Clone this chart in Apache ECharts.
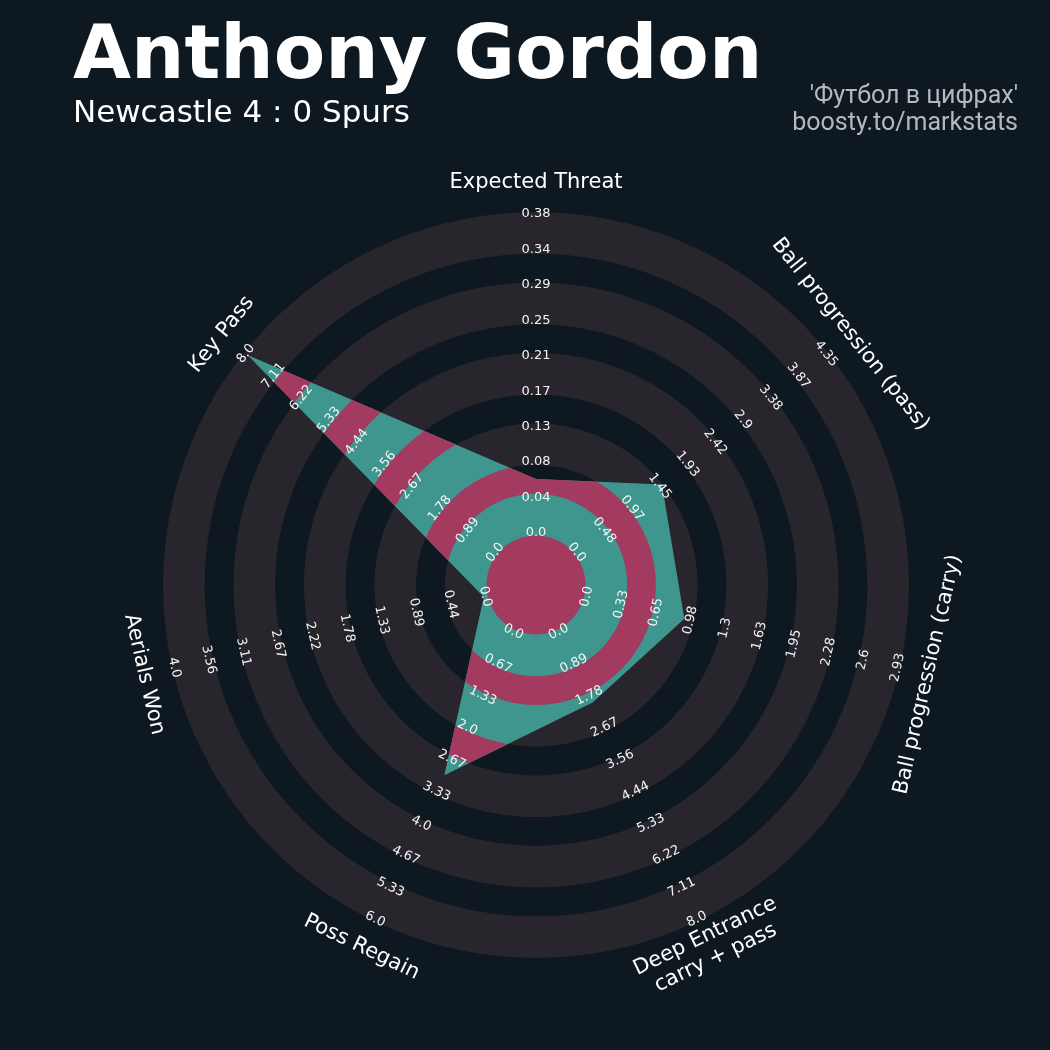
<!DOCTYPE html>
<html><head><meta charset="utf-8">
<script src="https://cdn.jsdelivr.net/npm/echarts@6/dist/echarts.min.js"></script>
<style>html,body{margin:0;padding:0;background:#0e1821;}#c{width:1050px;height:1050px;}</style>
</head><body><div id="c"></div>
<script>
// ---------- data ----------
const params = ['Expected Threat', 'Ball progression (pass)', 'Ball progression (carry)',
  'Deep Entrance\ncarry + pass', 'Poss Regain', 'Aerials Won', 'Key Pass'];
const rangeMin = [0, 0, 0, 0, 0, 0, 0];
const rangeMax = [0.378, 4.35, 2.93, 8.0, 6.0, 4.0, 8.0];
const values = [0.066, 1.5, 0.93, 2.0, 3.0, 0.05, 7.9];
const tickLabels = [
  ['0.0', '0.04', '0.08', '0.13', '0.17', '0.21', '0.25', '0.29', '0.34', '0.38'],
  ['0.0', '0.48', '0.97', '1.45', '1.93', '2.42', '2.9', '3.38', '3.87', '4.35'],
  ['0.0', '0.33', '0.65', '0.98', '1.3', '1.63', '1.95', '2.28', '2.6', '2.93'],
  ['0.0', '0.89', '1.78', '2.67', '3.56', '4.44', '5.33', '6.22', '7.11', '8.0'],
  ['0.0', '0.67', '1.33', '2.0', '2.67', '3.33', '4.0', '4.67', '5.33', '6.0'],
  ['0.0', '0.44', '0.89', '1.33', '1.78', '2.22', '2.67', '3.11', '3.56', '4.0'],
  ['0.0', '0.89', '1.78', '2.67', '3.56', '4.44', '5.33', '6.22', '7.11', '8.0']
];
const titleText = 'Anthony Gordon';
const subtitleText = 'Newcastle 4 : 0 Spurs';
const creditLines = ["'Футбол в цифрах'", 'boosty.to/markstats'];

// ---------- layout / style ----------
const OUTER = 373;                 // px radius of the polar system
const R0 = 49.5 / OUTER;           // inner circle radius (normalized)
const lightBands = [[49.5, 91.2], [119.95, 161.65], [190.4, 232.1], [260.85, 302.55], [331.3, 373]]
  .map(b => [b[0] / OUTER, b[1] / OUTER]);
const darkBands = [[0, 49.5], [91.2, 119.95], [161.65, 190.4], [232.1, 260.85], [302.55, 331.3]]
  .map(b => [b[0] / OUTER, b[1] / OUTER]);
const LABEL_R0 = 52 / OUTER, LABEL_R1 = 371 / OUTER;
const PARAM_R = 402 / OUTER;
const BG = '#0e1821', RING = '#28252c', TEAL = '#3e968f', PINK = '#a33a5f';
const N = params.length;
const angleOf = i => i * 360 / N;
const norm = (v, i) => R0 + (1 - R0) * (v - rangeMin[i]) / (rangeMax[i] - rangeMin[i]);

function textRot(i) {
  const phi = 90 - angleOf(i);
  let rot = phi - 90;
  while (rot <= -180) rot += 360;
  while (rot > 180) rot -= 360;
  if (rot < -90) rot += 180;
  if (rot > 90) rot -= 180;
  return rot * Math.PI / 180;
}

const polyData = values.map((v, i) => [norm(v, i), angleOf(i)]);
const tickData = [];
tickLabels.forEach((arr, i) => arr.forEach((t, k) => {
  tickData.push([LABEL_R0 + (LABEL_R1 - LABEL_R0) * k / (arr.length - 1), angleOf(i), i, k]);
}));
const paramData = params.map((p, i) => [PARAM_R, angleOf(i), i]);

const chart = echarts.init(document.getElementById('c'), null, {renderer: 'canvas'});
chart.setOption({
  backgroundColor: BG,
  animation: false,
  polar: {center: [536, 585], radius: OUTER},
  angleAxis: {type: 'value', min: 0, max: 360, startAngle: 90, clockwise: true, show: false},
  radiusAxis: {type: 'value', min: 0, max: 1, show: false},
  graphic: [
    {type: 'text', x: 73, y: 59, style: {text: titleText, font: 'bold 75px "DejaVu Sans"', fill: '#ffffff',
      textAlign: 'left', textVerticalAlign: 'middle', align: 'left', verticalAlign: 'middle'}},
    {type: 'text', x: 73, y: 114, style: {text: subtitleText, font: '31px "DejaVu Sans"', fill: '#ffffff',
      textAlign: 'left', textVerticalAlign: 'middle', align: 'left', verticalAlign: 'middle'}},
    {type: 'text', x: 1018, y: 97, style: {text: creditLines[0], font: '25px Roboto', fill: '#b5b9bd',
      textAlign: 'right', textVerticalAlign: 'middle', align: 'right', verticalAlign: 'middle'}},
    {type: 'text', x: 1018, y: 124, style: {text: creditLines[1], font: '25px Roboto', fill: '#b5b9bd',
      textAlign: 'right', textVerticalAlign: 'middle', align: 'right', verticalAlign: 'middle'}}
  ],
  series: [
    {
      type: 'custom', coordinateSystem: 'polar', silent: true, z: 1,
      data: lightBands.map(b => [b[1], 0]),
      renderItem: function (p, api) {
        const b = lightBands[p.dataIndex];
        const c = api.coord([0, 0]);
        const p0 = api.coord([b[0], 0]), p1 = api.coord([b[1], 0]);
        return {type: 'ring', shape: {cx: c[0], cy: c[1], r: c[1] - p1[1], r0: c[1] - p0[1]},
          style: {fill: RING}};
      }
    },
    {
      type: 'custom', coordinateSystem: 'polar', silent: true, z: 2,
      data: polyData,
      renderItem: function (p, api) {
        if (p.dataIndex !== 0) return null;
        const pts = polyData.map(d => api.coord([d[0], d[1]]));
        const c = api.coord([0, 0]);
        const children = [{type: 'polygon', shape: {points: pts}, style: {fill: TEAL}}];
        darkBands.forEach(b => {
          const q0 = api.coord([b[0], 0]), q1 = api.coord([b[1], 0]);
          children.push({
            type: 'ring',
            shape: {cx: c[0], cy: c[1], r: c[1] - q1[1], r0: c[1] - q0[1]},
            style: {fill: PINK},
            clipPath: {type: 'polygon', shape: {points: pts}}
          });
        });
        return {type: 'group', children: children};
      }
    },
    {
      type: 'custom', coordinateSystem: 'polar', silent: true, z: 3,
      data: tickData,
      renderItem: function (p, api) {
        const d = tickData[p.dataIndex];
        const pt = api.coord([d[0], d[1]]);
        return {type: 'text', x: pt[0], y: pt[1], rotation: textRot(d[2]),
          style: {text: tickLabels[d[2]][d[3]], font: '13px "DejaVu Sans"', fill: '#f4f4f4',
            textAlign: 'center', textVerticalAlign: 'middle', align: 'center', verticalAlign: 'middle'}};
      }
    },
    {
      type: 'custom', coordinateSystem: 'polar', silent: true, z: 4,
      data: paramData,
      renderItem: function (p, api) {
        const d = paramData[p.dataIndex];
        const pt = api.coord([d[0], d[1]]);
        return {type: 'text', x: pt[0], y: pt[1], rotation: textRot(d[2]),
          style: {text: params[d[2]], font: '21px "DejaVu Sans"', fill: '#ffffff', lineHeight: 24,
            textAlign: 'center', textVerticalAlign: 'middle', align: 'center', verticalAlign: 'middle'}};
      }
    }
  ]
});
</script>
</body></html>
